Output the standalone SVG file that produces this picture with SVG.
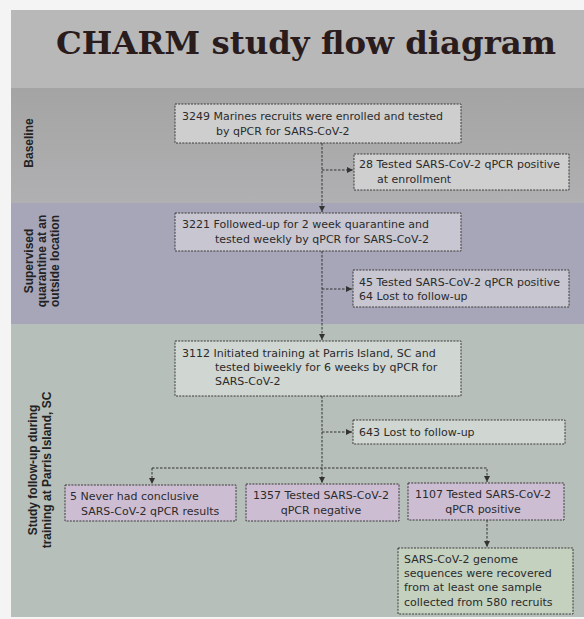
<svg xmlns="http://www.w3.org/2000/svg" width="584" height="619" viewBox="0 0 584 619">
<defs>
<marker id="arr" viewBox="0 0 6 6" refX="6" refY="3" markerWidth="6" markerHeight="6" orient="auto" markerUnits="userSpaceOnUse">
<path d="M0,0 L6,3 L0,6 z" fill="#333"/>
</marker>
<linearGradient id="gBase" x1="0" y1="0" x2="0" y2="1">
<stop offset="0" stop-color="#a4a4a4"/><stop offset="1" stop-color="#b0b0b2"/>
</linearGradient>
</defs>
<style>
.box{stroke:#3a3a3a;stroke-width:1;stroke-dasharray:2 1.2}
.t{font-family:"DejaVu Sans","Liberation Sans",sans-serif;font-size:11px;fill:#2b2b2b}
.lab{font-family:"Liberation Sans",Arial,sans-serif;font-size:12px;font-weight:bold;fill:#222}
.c{fill:none;stroke:#333;stroke-width:1;stroke-dasharray:2.5 1.5}
</style>
<rect x="0" y="0" width="584" height="619" fill="#f4f4f4"/>
<rect x="11" y="10" width="573" height="78" fill="#b8b8b8"/>
<rect x="11" y="88" width="573" height="115" fill="url(#gBase)"/>
<rect x="11" y="203" width="573" height="121" fill="#a7a6b9"/>
<rect x="11" y="324" width="573" height="293" fill="#b7bfba"/>
<text x="306" y="54" text-anchor="middle" textLength="500" lengthAdjust="spacingAndGlyphs" font-family="'DejaVu Serif','Liberation Serif',serif" font-weight="bold" font-size="32" fill="#2a1c1c">CHARM study flow diagram</text>
<g id="lanes">
<text class="lab" transform="translate(33,143) rotate(-90)" text-anchor="middle">Baseline</text>
<text class="lab" transform="translate(33,261) rotate(-90)" text-anchor="middle">Supervised</text>
<text class="lab" transform="translate(46,261) rotate(-90)" text-anchor="middle">quarantine at an</text>
<text class="lab" transform="translate(59,261) rotate(-90)" text-anchor="middle">outside location</text>
<text class="lab" transform="translate(37,470) rotate(-90)" text-anchor="middle">Study follow-up during</text>
<text class="lab" transform="translate(51,470) rotate(-90)" text-anchor="middle">training at Parris Island, SC</text>
</g>
<g id="connectors">
<path class="c" d="M322,143 V212" marker-end="url(#arr)"/>
<path class="c" d="M322,170 H353" marker-end="url(#arr)"/>
<path class="c" d="M322,251 V340" marker-end="url(#arr)"/>
<path class="c" d="M322,289 H352" marker-end="url(#arr)"/>
<path class="c" d="M322,396 V483" marker-end="url(#arr)"/>
<path class="c" d="M322,432 H352" marker-end="url(#arr)"/>
<path class="c" d="M152,468 H487 V482" marker-end="url(#arr)"/>
<path class="c" d="M152,468 V484" marker-end="url(#arr)"/>
<path class="c" d="M487,520 V547" marker-end="url(#arr)"/>
</g>
<g id="n1"><rect class="box" x="175" y="104" width="286" height="39" fill="#cecece"/>
<text class="t" x="182" y="120">3249 Marines recruits were enrolled and tested</text>
<text class="t" x="216" y="135">by qPCR for SARS-CoV-2</text></g>
<g id="n2"><rect class="box" x="354" y="154" width="215" height="36" fill="#cfcfcf"/>
<text class="t" x="359" y="168">28 Tested SARS-CoV-2 qPCR positive</text>
<text class="t" x="377" y="183">at enrollment</text></g>
<g id="n3"><rect class="box" x="175" y="213" width="286" height="38" fill="#c7c6d1"/>
<text class="t" x="182" y="228">3221 Followed-up for 2 week quarantine and</text>
<text class="t" x="215" y="243">tested weekly by qPCR for SARS-CoV-2</text></g>
<g id="n4"><rect class="box" x="353" y="270" width="216" height="37" fill="#c7c6d1"/>
<text class="t" x="359" y="286">45 Tested SARS-CoV-2 qPCR positive</text>
<text class="t" x="359" y="300">64 Lost to follow-up</text></g>
<g id="n5"><rect class="box" x="175" y="341" width="286" height="55" fill="#d0d6d2"/>
<text class="t" x="182" y="357">3112 Initiated training at Parris Island, SC and</text>
<text class="t" x="215" y="371">tested biweekly for 6 weeks by qPCR for</text>
<text class="t" x="215" y="385">SARS-CoV-2</text></g>
<g id="n6"><rect class="box" x="353" y="420" width="212" height="24" fill="#d0d6d2"/>
<text class="t" x="359" y="436">643 Lost to follow-up</text></g>
<g id="n7"><rect class="box" x="65" y="485" width="171" height="36" fill="#cdbdd3"/>
<text class="t" x="70" y="500">5 Never had conclusive</text>
<text class="t" x="81" y="515">SARS-CoV-2 qPCR results</text></g>
<g id="n8"><rect class="box" x="246" y="484" width="153" height="37" fill="#cdbdd3"/>
<text class="t" x="321" y="499" text-anchor="middle">1357 Tested SARS-CoV-2</text>
<text class="t" x="321" y="514" text-anchor="middle">qPCR negative</text></g>
<g id="n9"><rect class="box" x="408" y="483" width="156" height="37" fill="#cdbdd3"/>
<text class="t" x="483" y="498" text-anchor="middle">1107 Tested SARS-CoV-2</text>
<text class="t" x="483" y="513" text-anchor="middle">qPCR positive</text></g>
<g id="n10"><rect class="box" x="398" y="548" width="175" height="66" fill="#c4d1bf"/>
<text class="t" x="404" y="563">SARS-CoV-2 genome</text>
<text class="t" x="404" y="577">sequences were recovered</text>
<text class="t" x="404" y="591">from at least one sample</text>
<text class="t" x="404" y="606">collected from 580 recruits</text></g>
</svg>
